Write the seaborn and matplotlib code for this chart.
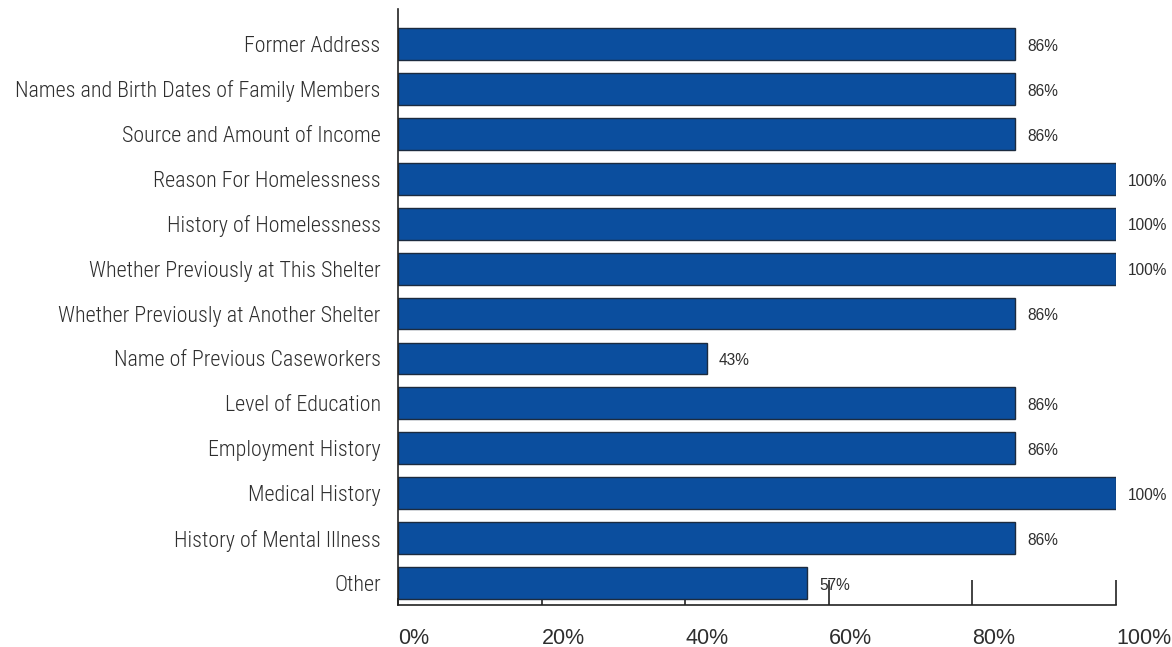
import matplotlib
matplotlib.use("Agg")
import matplotlib.pyplot as plt
import seaborn as sns
import pandas as pd
from matplotlib.ticker import FixedLocator, FuncFormatter

categories = ["Former Address", "Names and Birth Dates of Family Members", "Source and Amount of Income",
              "Reason For Homelessness", "History of Homelessness", "Whether Previously at This Shelter",
              "Whether Previously at Another Shelter", "Name of Previous Caseworkers", "Level of Education",
              "Employment History", "Medical History", "History of Mental Illness", "Other"]
percent = [86, 86, 86, 100, 100, 100, 86, 43, 86, 86, 100, 86, 57]
short_ticks = [0, 20, 40]
long_ticks = [60, 80, 100]

df = pd.DataFrame({"item": categories, "pct": percent})

sns.set_style("white")
plt.rcParams['font.family'] = ['Liberation Sans', 'DejaVu Sans']
text_col = "#2e2e2e"
narrow = ['Roboto Condensed', 'DejaVu Sans']

fig = plt.figure(figsize=(11.72, 6.47), dpi=100)
ax = fig.add_axes([0.3396, 0.0649, 0.9522 - 0.3396, 0.986 - 0.0649])
sns.barplot(data=df, x="pct", y="item", color="#0b4e9e", saturation=1, width=0.71,
            edgecolor="#1c2b3f", linewidth=1, ax=ax)

# value labels right of each bar
for i, v in enumerate(percent):
    ax.text(v + 1.7, i + 0.05, f"{v}%", ha="left", va="center", fontsize=11.2, color=text_col)

ax.set_xlim(0, 100)
ax.set_ylim(12.49, -0.78)
ax.set_xlabel("")
ax.set_ylabel("")

for s in ["top", "right"]:
    ax.spines[s].set_visible(False)
for s in ["left", "bottom"]:
    ax.spines[s].set_color("#222222")
    ax.spines[s].set_linewidth(1.2)

# x ticks: short ones inside, longer ones for 60-100, labels left aligned
ax.xaxis.set_major_locator(FixedLocator(short_ticks))
ax.xaxis.set_minor_locator(FixedLocator(long_ticks))
fmt = FuncFormatter(lambda x, p: f"{x:.0f}%")
ax.xaxis.set_major_formatter(fmt)
ax.xaxis.set_minor_formatter(fmt)
ax.tick_params(axis="x", which="major", direction="in", length=5, width=1.2, color="#222222",
               pad=16.5, labelsize=15.5, labelcolor=text_col, bottom=True)
ax.tick_params(axis="x", which="minor", direction="in", length=18, width=1.2, color="#222222",
               pad=16.5, labelsize=15.5, labelcolor=text_col, bottom=True)
for lab in ax.get_xticklabels(which="both"):
    lab.set_horizontalalignment("left")

ax.tick_params(axis="y", length=0, pad=12.5, labelsize=15.8, labelcolor=text_col)
for lab in ax.get_yticklabels():
    lab.set_family(narrow)
    lab.set_fontweight("light")

fig.savefig("out.png", dpi=100)
